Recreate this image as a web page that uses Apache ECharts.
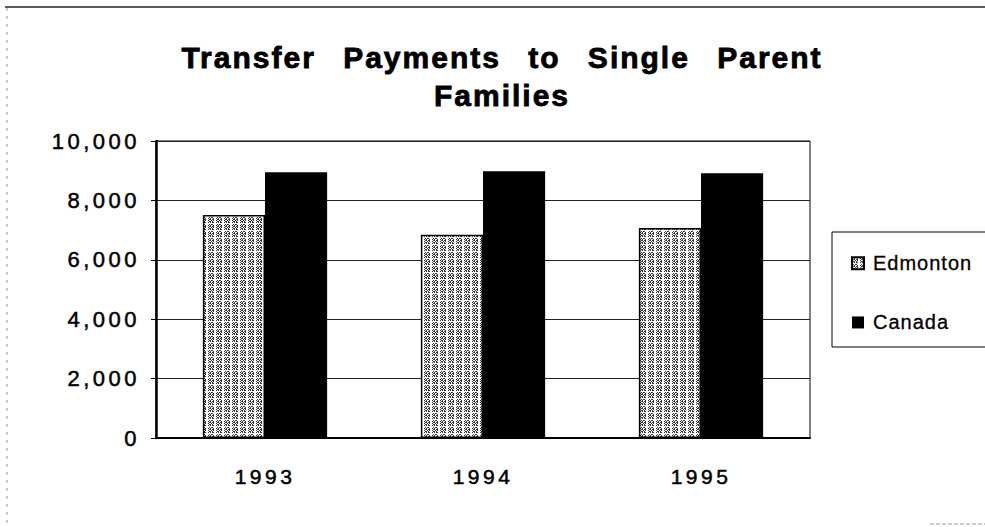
<!DOCTYPE html>
<html>
<head>
<meta charset="utf-8">
<script src="https://cdn.jsdelivr.net/npm/echarts@6/dist/echarts.min.js"></script>
<style>
  html, body { margin: 0; padding: 0; background: #fff; }
  #chart { width: 985px; height: 527px; }
</style>
</head>
<body>
<div id="chart"></div>
<script>
// data
const years = ['1993', '1994', '1995']
const edmonton = [7510, 6840, 7070]
const canada = [8950, 8980, 8910]
const yTickLabels = ['0', '2,000', '4,000', '6,000', '8,000', '10,000']
const seriesNames = ['Edmonton', 'Canada']
const titleText = 'Transfer Payments to Single Parent\nFamilies'

// small stipple tile for the Edmonton bars
const glyph = [
  '.#.##...',
  '#.#..#..',
  '.##.##..',
  '#..#.#..',
  '.##.#...',
  '#.#.##..',
  '........'
]
function makeTile() {
  const c = document.createElement('canvas')
  c.width = 8
  c.height = 7
  const ctx = c.getContext('2d')
  ctx.fillStyle = '#fff'
  ctx.fillRect(0, 0, 8, 7)
  ctx.fillStyle = '#333'
  glyph.forEach((row, y) => {
    for (let x = 0; x < row.length; x++) {
      if (row[x] === '#') ctx.fillRect(x, y, 1, 1)
    }
  })
  return c
}

const chart = echarts.init(document.getElementById('chart'), null, { renderer: 'svg' })
const font = 'Liberation Sans'

const option = {
  animation: false,
  backgroundColor: '#fff',
  title: {
    text: titleText,
    left: 502,
    top: 38,
    padding: 0,
    textAlign: 'center',
    textStyle: {
      fontFamily: font,
      fontWeight: 'bold',
      fontSize: 30,
      lineHeight: 38,
      color: '#000',
      textBorderColor: '#000',
      textBorderWidth: 0.8
    }
  },
  legend: {
    data: seriesNames,
    orient: 'vertical',
    left: 846,
    top: 248,
    itemWidth: 12,
    itemHeight: 12,
    itemGap: 39,
    icon: 'rect',
    textStyle: {
      fontFamily: font,
      fontSize: 20,
      lineHeight: 20,
      color: '#000',
      textBorderColor: '#000',
      textBorderWidth: 0.3,
      padding: [0, 0, 0, 4]
    }
  },
  graphic: [
    {
      type: 'rect',
      z: 0,
      shape: { x: 832, y: 232, width: 170, height: 115 },
      style: { fill: '#fff', stroke: '#000', lineWidth: 1 }
    },
    {
      type: 'line',
      shape: { x1: 5, y1: 7, x2: 985, y2: 7 },
      style: { stroke: '#222', lineWidth: 1.5 }
    },
    {
      type: 'line',
      shape: { x1: 7, y1: 8, x2: 7, y2: 527 },
      style: { stroke: '#999', lineWidth: 1, lineDash: [3, 5] }
    },
    {
      type: 'line',
      shape: { x1: 930, y1: 524, x2: 985, y2: 524 },
      style: { stroke: '#999', lineWidth: 1, lineDash: [4, 2] }
    }
  ],
  grid: {
    left: 156,
    right: 175,
    top: 141,
    bottom: 89,
    show: true,
    borderColor: '#000',
    borderWidth: 1,
    outerBoundsMode: 'none'
  },
  xAxis: [
    {
      type: 'category',
      data: years,
      axisLine: { lineStyle: { color: '#000', width: 2 } },
      axisTick: { length: 5, lineStyle: { color: '#000', width: 1.5 } },
      axisLabel: {
        margin: 28,
        fontFamily: font,
        fontSize: 21,
        color: '#000',
        textBorderColor: '#000',
        textBorderWidth: 0.5
      }
    },
    {
      type: 'category',
      data: years,
      position: 'bottom',
      axisLine: { show: false },
      axisTick: { inside: true, length: 8, lineStyle: { color: '#000', width: 1.5 } },
      axisLabel: { show: false }
    }
  ],
  yAxis: {
    type: 'value',
    min: 0,
    max: 10000,
    interval: 2000,
    axisLine: { show: true, lineStyle: { color: '#000', width: 2.5 } },
    axisTick: { show: true, length: 5, lineStyle: { color: '#000' } },
    splitLine: { lineStyle: { color: '#222', width: 1 } },
    axisLabel: {
      margin: 16,
      fontFamily: font,
      fontSize: 22,
      color: '#000',
      textBorderColor: '#000',
      textBorderWidth: 0.5,
      formatter: v => yTickLabels[Math.round(v / 2000)]
    }
  },
  series: [
    {
      name: seriesNames[0],
      type: 'bar',
      data: edmonton,
      barGap: 0,
      barCategoryGap: '43%',
      itemStyle: {
        color: { image: makeTile(), repeat: 'repeat' },
        borderColor: '#000',
        borderWidth: 1.5
      }
    },
    {
      name: seriesNames[1],
      type: 'bar',
      data: canada,
      itemStyle: { color: '#000' }
    }
  ]
}

chart.setOption(option)

// the scan uses wide tracking; apply it to the SVG text nodes
function applySpacing() {
  document.querySelectorAll('#chart text').forEach(t => {
    const s = t.textContent
    if (titleText.split('\n').includes(s)) {
      t.style.letterSpacing = '2px'
      t.style.wordSpacing = '17px'
    } else if (seriesNames.includes(s)) {
      t.style.letterSpacing = '1px'
    } else {
      t.style.letterSpacing = '3.5px'
    }
  })
}
chart.on('finished', applySpacing)
applySpacing()
setTimeout(applySpacing, 0)
</script>
</body>
</html>
